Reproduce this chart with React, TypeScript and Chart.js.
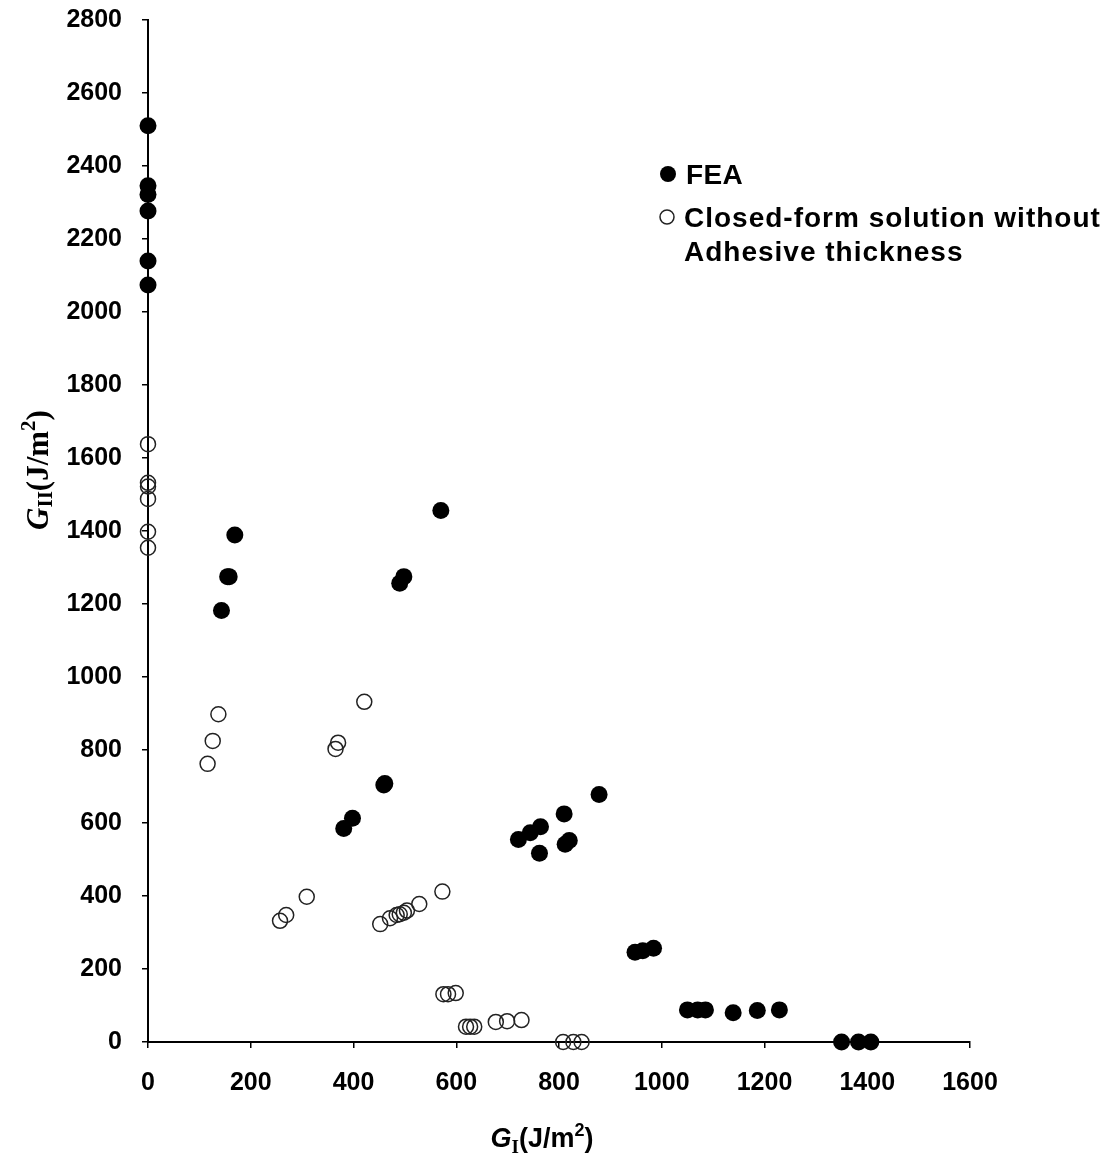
import React, { useEffect, useRef } from "react";
import { Chart, registerables } from "chart.js";

Chart.register(...registerables);

// FEA (filled circles)
const feaX = [0, 0, 0, 0, 0, 0, 143, 155, 158, 169, 490, 498, 570, 381, 398, 459, 461, 721, 744, 764, 762, 810, 812, 820, 878, 948, 963, 984, 1050, 1070, 1085, 1139, 1186, 1229, 1350, 1383, 1407];
const feaY = [2510, 2346, 2322, 2277, 2140, 2074, 1182, 1275, 1275, 1389, 1257, 1275, 1456, 585, 613, 704, 708, 555, 573, 590, 517, 625, 542, 552, 678, 246, 250, 257, 88, 88, 88, 80, 86, 88, 0, 0, 0];

// Closed-form solution without adhesive thickness (open circles)
const cfX = [0, 0, 0, 0, 0, 0, 116, 126, 137, 365, 370, 421, 257, 269, 309, 452, 471, 484, 490, 498, 504, 528, 573, 575, 584, 599, 619, 627, 635, 677, 699, 727, 808, 828, 844];
const cfY = [1638, 1532, 1522, 1488, 1398, 1354, 762, 825, 898, 803, 820, 932, 332, 348, 398, 323, 339, 348, 350, 354, 360, 378, 412, 131, 131, 134, 42, 42, 42, 55, 57, 60, 0, 0, 0];

const xTicks = [0, 200, 400, 600, 800, 1000, 1200, 1400, 1600];
const yTicks = [0, 200, 400, 600, 800, 1000, 1200, 1400, 1600, 1800, 2000, 2200, 2400, 2600, 2800];

const legendLabels = ["FEA", "Closed-form solution without", "Adhesive thickness"];

type Piece = { t: string; font: string; dy: number };

function drawPieces(ctx: CanvasRenderingContext2D, pieces: Piece[], cx: number, baseline: number) {
  let total = 0;
  for (const p of pieces) {
    ctx.font = p.font;
    total += ctx.measureText(p.t).width;
  }
  let x = cx - total / 2;
  for (const p of pieces) {
    ctx.font = p.font;
    ctx.fillText(p.t, x, baseline + p.dy);
    x += ctx.measureText(p.t).width;
  }
}

const overlayPlugin = {
  id: "overlay",
  afterDraw(chart: any) {
    const ctx: any = chart.ctx;
    ctx.save();
    ctx.fillStyle = "#000";
    ctx.textAlign = "left";
    ctx.textBaseline = "alphabetic";

    // X axis title
    drawPieces(
      ctx,
      [
        { t: "G", font: 'italic bold 27px "Liberation Sans"', dy: 0 },
        { t: "I", font: 'bold 19px "Liberation Serif"', dy: 6 },
        { t: "(J/m", font: 'bold 27px "Liberation Sans"', dy: 0 },
        { t: "2", font: 'bold 18px "Liberation Sans"', dy: -11 },
        { t: ")", font: 'bold 27px "Liberation Sans"', dy: 0 },
      ],
      542,
      1147
    );

    // Y axis title
    ctx.save();
    ctx.translate(48, 470);
    ctx.rotate(-Math.PI / 2);
    drawPieces(
      ctx,
      [
        { t: "G", font: 'italic bold 31px "Liberation Serif"', dy: 0 },
        { t: "II", font: 'bold 21px "Liberation Serif"', dy: 4 },
        { t: "(J/m", font: 'bold 31px "Liberation Serif"', dy: 0 },
        { t: "2", font: 'bold 21px "Liberation Serif"', dy: -13 },
        { t: ")", font: 'bold 31px "Liberation Serif"', dy: 0 },
      ],
      0,
      0
    );
    ctx.restore();

    // Legend
    ctx.beginPath();
    ctx.arc(668, 174, 8, 0, Math.PI * 2);
    ctx.fill();
    ctx.beginPath();
    ctx.lineWidth = 1.5;
    ctx.strokeStyle = "#222";
    ctx.arc(667, 217, 7, 0, Math.PI * 2);
    ctx.stroke();
    ctx.font = 'bold 28px "Liberation Sans"';
    ctx.letterSpacing = "0.3px";
    ctx.fillText(legendLabels[0], 686, 184);
    ctx.letterSpacing = "1px";
    ctx.fillText(legendLabels[1], 684, 227, 420);
    ctx.fillText(legendLabels[2], 684, 261);
    ctx.letterSpacing = "0px";
    ctx.restore();
  },
};

export default function App() {
  const ref = useRef<HTMLCanvasElement | null>(null);
  useEffect(() => {
    if (!ref.current) return;
    const tickFont = { family: '"Liberation Sans"', size: 25, weight: "bold" as const };
    const chart = new Chart(ref.current, {
      type: "scatter",
      data: {
        datasets: [
          {
            label: legendLabels[1],
            data: cfX.map((x, i) => ({ x, y: cfY[i] })),
            pointRadius: 7.5,
            pointBackgroundColor: "rgba(0,0,0,0)",
            pointBorderColor: "#222",
            pointBorderWidth: 1.5,
            showLine: false,
            clip: false,
          },
          {
            label: legendLabels[0],
            data: feaX.map((x, i) => ({ x, y: feaY[i] })),
            pointRadius: 8.5,
            pointBackgroundColor: "#000",
            pointBorderColor: "#000",
            pointBorderWidth: 0,
            showLine: false,
            clip: false,
          },
        ],
      },
      options: {
        animation: false,
        responsive: false,
        maintainAspectRatio: false,
        layout: { padding: { top: 20, right: 145, left: 0, bottom: 0 }, autoPadding: false },
        plugins: { legend: { display: false }, tooltip: { enabled: false } },
        scales: {
          x: {
            type: "linear",
            min: 0,
            max: 1600,
            afterBuildTicks: (s: any) => {
              s.ticks = xTicks.map((v) => ({ value: v }));
            },
            ticks: { font: tickFont, color: "#000", padding: 20, maxRotation: 0, callback: (v: any) => String(v) },
            grid: { drawOnChartArea: false, drawTicks: true, tickLength: 6, color: "#000", lineWidth: 1.5 },
            border: { display: true, color: "#000", width: 2 },
            afterFit: (s: any) => {
              s.height = 120;
              s.paddingLeft = 0;
              s.paddingRight = 0;
            },
          },
          y: {
            type: "linear",
            min: 0,
            max: 2800,
            afterBuildTicks: (s: any) => {
              s.ticks = yTicks.map((v) => ({ value: v }));
            },
            ticks: { font: tickFont, color: "#000", padding: 20, callback: (v: any) => String(v) },
            grid: { drawOnChartArea: false, drawTicks: true, tickLength: 6, color: "#000", lineWidth: 1.5 },
            border: { display: true, color: "#000", width: 2 },
            afterFit: (s: any) => {
              s.width = 148;
              s.paddingTop = 0;
              s.paddingBottom = 0;
            },
          },
        },
      },
      plugins: [overlayPlugin],
    });
    return () => chart.destroy();
  }, []);
  return (
    <div style={{ position: "absolute", left: 0, top: 0, width: 1115, height: 1162, background: "#fff" }}>
      <canvas ref={ref} width={1115} height={1162} style={{ width: 1115, height: 1162, display: "block" }} />
    </div>
  );
}
